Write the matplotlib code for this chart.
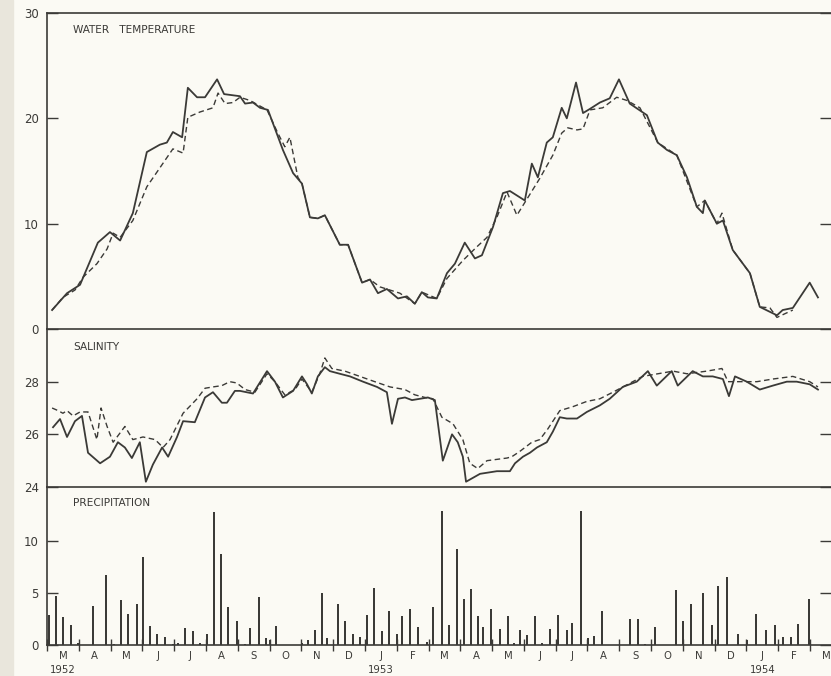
import numpy as np
from matplotlib import pyplot as plt
from matplotlib.patches import Rectangle

# x positions are in months counted from 1 March 1952
temp_t = [0.16, 0.63, 1.04, 1.60, 1.98, 2.30, 2.70, 3.14, 3.55, 3.77, 3.96, 4.25,
          4.43, 4.72, 4.97, 5.35, 5.57, 6.07, 6.23, 6.48, 6.70, 6.95, 7.42, 7.74,
          8.02, 8.27, 8.52, 8.74, 9.21, 9.47, 9.91, 10.16, 10.41, 10.69, 11.04,
          11.32, 11.57, 11.79, 11.98, 12.26, 12.58, 12.83, 13.14, 13.46, 13.68,
          14.03, 14.34, 14.56, 15.03, 15.25, 15.44, 15.72, 15.91, 16.19, 16.35,
          16.64, 16.86, 17.08, 17.39, 17.70, 17.99, 18.33, 18.87, 19.21, 19.50,
          19.81, 20.13, 20.44, 20.63, 20.69, 21.07, 21.26, 21.57, 22.11, 22.42,
          22.96, 23.14, 23.46, 23.99, 24.25]
temp_solid = [1.8, 3.4, 4.2, 8.2, 9.2, 8.4, 11.0, 16.8, 17.5, 17.7, 18.7, 18.2,
              22.9, 22.0, 22.0, 23.7, 22.3, 22.1, 21.4, 21.5, 21.0, 20.8, 17.0, 14.8,
              13.8, 10.6, 10.5, 10.8, 8.0, 8.0, 4.4, 4.7, 3.4, 3.8, 2.9,
              3.1, 2.4, 3.5, 3.0, 2.9, 5.3, 6.2, 8.2, 6.7, 7.0,
              9.7, 12.9, 13.1, 12.2, 15.7, 14.4, 17.7, 18.2, 21.0, 20.0,
              23.4, 20.5, 20.9, 21.5, 21.9, 23.7, 21.4, 20.3, 17.7, 17.0,
              16.5, 14.4, 11.6, 11.0, 12.2, 10.0, 10.3, 7.5, 5.3, 2.1,
              1.3, 1.8, 2.0, 4.4, 3.0]

temp_dash_t = [0.16, 0.50, 0.88, 1.13, 1.57, 1.89, 2.08, 2.30, 2.70, 3.14, 3.96,
               4.28, 4.43, 4.81, 5.22, 5.38, 5.60, 5.85, 6.07, 6.38, 6.92, 7.26,
               7.48, 7.64, 7.89, 8.02, 8.27, 8.52, 8.74, 9.21, 9.47, 9.91, 10.16,
               10.47, 11.10, 11.57, 11.79, 12.26, 12.58, 13.08, 13.52, 13.84, 14.15,
               14.47, 14.78, 15.13, 15.50, 15.91, 16.19, 16.38, 16.67, 16.86, 17.08,
               17.48, 17.92, 18.24, 18.65, 19.21, 19.81, 20.44, 20.69, 21.07, 21.23,
               21.57, 22.11, 22.42, 22.74, 22.96, 23.46]
temp_dash = [1.8, 3.0, 3.7, 4.9, 6.2, 7.6, 9.1, 8.7, 10.3, 13.5, 17.1,
             16.7, 20.1, 20.6, 21.0, 22.4, 21.4, 21.5, 22.0, 21.7, 20.8, 18.6,
             17.3, 18.2, 14.4, 13.8, 10.6, 10.5, 10.8, 8.0, 8.0, 4.4, 4.7,
             4.0, 3.4, 2.4, 3.5, 2.9, 4.8, 6.5, 7.8, 8.7, 10.6,
             13.0, 10.8, 12.5, 14.3, 16.5, 18.6, 19.1, 18.9, 19.0, 20.8,
             21.0, 22.0, 21.7, 21.0, 17.7, 16.5, 11.6, 12.2, 10.0, 11.0,
             7.5, 5.3, 2.1, 2.0, 1.1, 1.8]

sal_t = [0.19, 0.41, 0.63, 0.88, 1.10, 1.29, 1.67, 1.98, 2.23, 2.45, 2.67, 2.92,
         3.11, 3.33, 3.62, 3.81, 4.09, 4.28, 4.65, 4.97, 5.22, 5.50, 5.66, 5.91,
         6.07, 6.48, 6.92, 7.17, 7.42, 7.74, 8.02, 8.18, 8.33, 8.52, 8.74, 8.90,
         9.21, 9.53, 9.94, 10.38, 10.69, 10.85, 11.04, 11.26, 11.48, 11.73, 11.98,
         12.20, 12.45, 12.74, 12.92, 13.08, 13.18, 13.40, 13.62, 14.15, 14.56,
         14.72, 14.97, 15.19, 15.41, 15.72, 15.91, 16.13, 16.35, 16.67, 16.98,
         17.39, 17.70, 18.11, 18.55, 18.90, 19.18, 19.65, 19.84, 20.31, 20.63,
         20.94, 21.26, 21.45, 21.64, 22.01, 22.42, 22.83, 23.27, 23.58, 23.99, 24.25]
sal_solid = [26.27, 26.58, 25.9, 26.5, 26.7, 25.3, 24.9, 25.15, 25.7, 25.5, 25.1, 25.7,
             24.2, 24.85, 25.5, 25.15, 25.9, 26.5, 26.46, 27.4, 27.6, 27.2, 27.2, 27.65,
             27.65, 27.55, 28.4, 28.0, 27.4, 27.65, 28.2, 27.9, 27.55, 28.2, 28.55, 28.4,
             28.3, 28.2, 28.0, 27.8, 27.6, 26.4, 27.35, 27.4, 27.3, 27.35, 27.4,
             27.3, 25.0, 26.0, 25.7, 25.15, 24.2, 24.35, 24.5, 24.6, 24.6,
             24.9, 25.15, 25.3, 25.5, 25.7, 26.1, 26.65, 26.6, 26.6, 26.85,
             27.1, 27.35, 27.8, 28.0, 28.4, 27.85, 28.4, 27.85, 28.4, 28.2,
             28.2, 28.1, 27.45, 28.2, 28.0, 27.7, 27.85, 28.0, 28.0, 27.9, 27.7]

sal_dash_t = [0.16, 0.35, 0.50, 0.63, 0.82, 1.04, 1.29, 1.57, 1.70, 1.89, 2.08,
              2.45, 2.70, 3.02, 3.40, 3.65, 3.87, 4.28, 4.72, 4.97, 5.22, 5.50,
              5.75, 5.97, 6.23, 6.54, 6.92, 7.17, 7.48, 7.80, 8.02, 8.33, 8.58,
              8.74, 8.96, 9.37, 9.84, 10.31, 10.79, 11.26, 11.57, 11.89, 12.14,
              12.42, 12.77, 13.08, 13.30, 13.55, 13.84, 14.47, 14.62, 14.87, 15.25,
              15.50, 15.75, 16.13, 16.54, 16.98, 17.39, 17.80, 18.74, 19.69, 20.13,
              20.75, 21.23, 21.42, 21.79, 22.33, 22.83, 23.46, 23.99, 24.25]
sal_dash = [27.0, 26.9, 26.8, 26.9, 26.7, 26.85, 26.85, 25.8, 27.0, 26.3, 25.7,
            26.3, 25.8, 25.9, 25.8, 25.5, 25.8, 26.8, 27.35, 27.75, 27.8, 27.85,
            28.0, 27.95, 27.7, 27.6, 28.3, 28.0, 27.5, 27.7, 28.1, 27.6, 28.3,
            28.9, 28.5, 28.4, 28.2, 28.0, 27.8, 27.7, 27.5, 27.4, 27.35,
            26.65, 26.4, 25.8, 24.9, 24.7, 25.0, 25.1, 25.15, 25.35, 25.7,
            25.8, 26.2, 26.9, 27.05, 27.25, 27.35, 27.6, 28.2, 28.4, 28.3,
            28.4, 28.5, 28.0, 28.0, 28.0, 28.1, 28.2, 28.0, 27.8]

precip_t = [0.06, 0.28, 0.50, 0.75, 0.97, 1.45, 1.86, 2.11, 2.33, 2.55, 2.83, 3.02,
            3.24, 3.46, 3.71, 3.96, 4.12, 4.34, 4.59, 4.81, 5.03, 5.25, 5.47, 5.69,
            5.97, 6.23, 6.38, 6.67, 6.89, 7.01, 7.20, 8.02, 8.21, 8.43, 8.65, 8.81,
            9.15, 9.37, 9.62, 9.84, 10.06, 10.28, 10.53, 10.75, 11.01, 11.16, 11.42,
            11.67, 11.95, 12.14, 12.42, 12.64, 12.89, 13.11, 13.33, 13.55, 13.71,
            13.96, 14.25, 14.50, 14.69, 14.87, 15.09, 15.35, 15.57, 15.82, 16.07,
            16.35, 16.51, 16.79, 17.01, 17.20, 17.45, 18.33, 18.58, 18.81, 19.12,
            19.78, 20.00, 20.25, 20.63, 20.91, 21.10, 21.38, 21.73, 22.01, 22.30,
            22.61, 22.89, 23.14, 23.40, 23.62, 23.96]
precip = [2.9, 4.7, 2.7, 1.9, 0.2, 3.8, 6.7, 0.1, 4.3, 3.0, 3.9, 8.5,
          1.8, 1.1, 0.8, 0.1, 0.2, 1.6, 1.3, 0.2, 1.1, 12.8, 8.8, 3.7,
          2.3, 0.1, 1.6, 4.6, 0.7, 0.5, 1.8, 0.2, 0.5, 1.4, 5.0, 0.7,
          3.9, 2.3, 1.1, 0.8, 2.9, 5.5, 1.3, 3.3, 1.1, 2.8, 3.5,
          1.7, 0.3, 3.7, 12.9, 1.9, 9.2, 4.4, 5.4, 2.8, 1.7,
          3.5, 1.5, 2.8, 0.2, 1.4, 1.0, 2.8, 0.2, 1.5, 2.9,
          1.4, 2.1, 12.9, 0.7, 0.9, 3.3, 2.5, 2.5, 0.1, 1.7,
          5.3, 2.3, 3.9, 5.0, 1.9, 5.7, 6.5, 1.1, 0.5, 3.0,
          1.4, 1.9, 0.8, 0.8, 2.0, 4.4]

month_labels = ["M", "A", "M", "J", "J", "A", "S", "O", "N", "D", "J", "F",
                "M", "A", "M", "J", "J", "A", "S", "O", "N", "D", "J", "F", "M"]
year_labels = {0.5: "1952", 10.5: "1953", 22.5: "1954"}

ink = "#3b3a37"
paper = "#fbfaf4"

fig = plt.figure(figsize=(8.31, 6.76), dpi=100, facecolor=paper)
# darker strip of the scanned page edge
fig.patches.append(Rectangle((0, 0), 0.016, 1, transform=fig.transFigure,
                             color="#e9e6dc", zorder=0))

left, width = 47 / 831, 784 / 831
ax_t = fig.add_axes([left, 347 / 676, width, 316 / 676])
ax_s = fig.add_axes([left, 189 / 676, width, 158 / 676])
ax_p = fig.add_axes([left, 31 / 676, width, 158 / 676])

xmax = 24.66
for ax in (ax_t, ax_s, ax_p):
    ax.set_facecolor("none")
    ax.set_xlim(0, xmax)
    for side in ("left", "top", "bottom"):
        ax.spines[side].set_color(ink)
        ax.spines[side].set_linewidth(1.2)
    ax.spines["right"].set_visible(False)
    ax.tick_params(axis="y", direction="in", left=True, right=True, length=8,
                   width=1.0, color=ink, labelcolor=ink, labelsize=8.5, pad=6)

label_kw = dict(fontsize=7.6, color=ink, va="center")

# water temperature
ax_t.plot(temp_dash_t, temp_dash, color=ink, lw=1.0, ls=(0, (4, 2.5)))
ax_t.plot(temp_t, temp_solid, color=ink, lw=1.3)
ax_t.set_ylim(0, 30)
ax_t.set_yticks([0, 10, 20, 30])
ax_t.set_xticks([])
ax_t.text(26 / 784, 0.946, "WATER   TEMPERATURE", transform=ax_t.transAxes, **label_kw)

# salinity
ax_s.plot(sal_dash_t, sal_dash, color=ink, lw=1.0, ls=(0, (4, 2.5)))
ax_s.plot(sal_t, sal_solid, color=ink, lw=1.3)
ax_s.set_ylim(24, 30)
ax_s.set_yticks([24, 26, 28])
ax_s.set_xticks([])
ax_s.spines["top"].set_visible(False)
ax_s.text(26 / 784, 0.885, "SALINITY", transform=ax_s.transAxes, **label_kw)

# precipitation
ax_p.bar(precip_t, precip, width=0.065, color=ink, linewidth=0)
ax_p.set_ylim(0, 15.2)
ax_p.set_yticks([0, 5, 10])
ax_p.spines["top"].set_visible(False)
ax_p.text(26 / 784, 0.9, "PRECIPITATION", transform=ax_p.transAxes, **label_kw)

ax_p.set_xticks(np.arange(0, 25))
ax_p.set_xticklabels([])
ax_p.tick_params(axis="x", direction="inout", length=9, width=1.0, color=ink)
for i, lab in enumerate(month_labels):
    ax_p.text(i + 0.5, -0.04, lab, transform=ax_p.get_xaxis_transform(),
              ha="center", va="top", fontsize=7.3, color=ink)
for xm, yr in year_labels.items():
    ax_p.text(xm, -0.125, yr, transform=ax_p.get_xaxis_transform(),
              ha="center", va="top", fontsize=7.3, color=ink)

fig.savefig("out.png", dpi=100, facecolor=paper)
